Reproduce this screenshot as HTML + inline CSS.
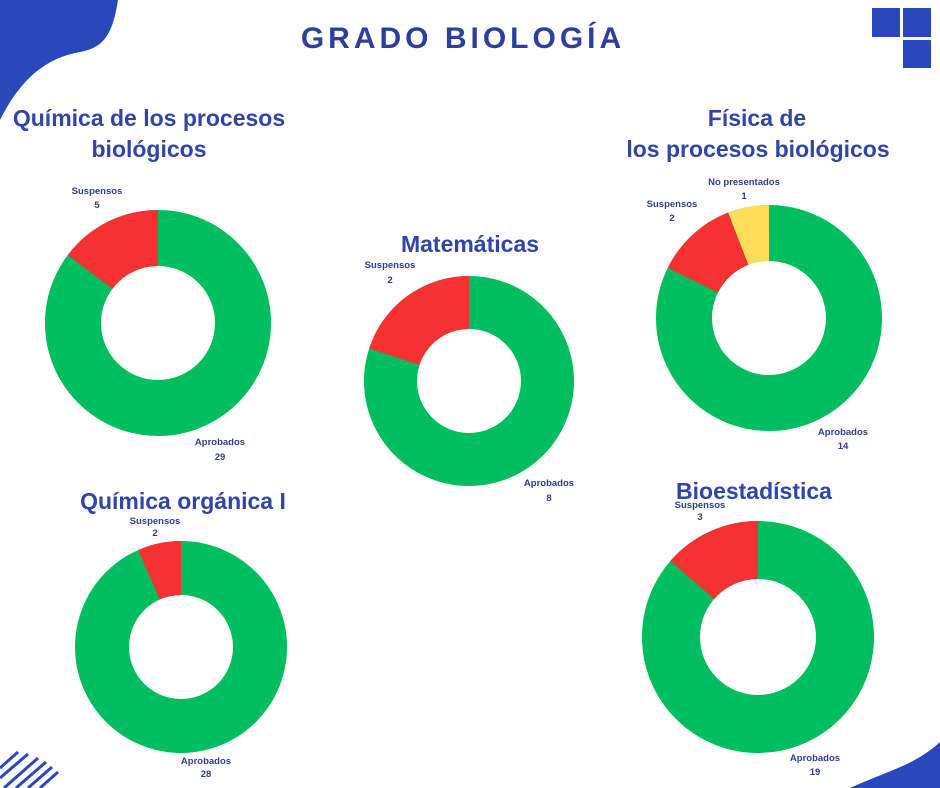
<!DOCTYPE html>
<html><head><meta charset="utf-8"><style>
body{margin:0;background:#fff;}
svg{display:block;font-family:"Liberation Sans",sans-serif;}
.t{font-weight:bold;fill:#2f45a8;font-size:23px;text-anchor:middle;}
.l{font-weight:bold;fill:#2d3f8e;font-size:9.5px;text-anchor:middle;}
</style></head><body>
<svg width="940" height="788" viewBox="0 0 940 788">
<path d="M0 0 H118 C112 40 100 48 80 52 C45 58 20 80 0 120 Z" fill="#2b47be"/>
<rect x="872" y="8" width="28" height="29" fill="#2b47be"/>
<rect x="903" y="8" width="28" height="29" fill="#2b47be"/>
<rect x="903" y="40" width="28" height="28" fill="#2b47be"/>
<path d="M940 742 C915 765 890 770 850 788 H940 Z" fill="#2b47be"/>
<g stroke="#2b47be" stroke-width="3">
<line x1="0" y1="768" x2="18" y2="752"/><line x1="0" y1="778" x2="28" y2="754"/>
<line x1="4" y1="788" x2="38" y2="758"/><line x1="16" y1="788" x2="46" y2="762"/>
<line x1="28" y1="788" x2="52" y2="767"/><line x1="40" y1="788" x2="58" y2="772"/>
</g>
<text x="463" y="48" text-anchor="middle" font-weight="bold" font-size="30" letter-spacing="4" fill="#2d3f9e">GRADO BIOLOGÍA</text>

<text class="t" x="149" y="126">Química de los procesos</text>
<text class="t" x="149" y="157">biológicos</text>
<circle cx="158" cy="323" r="85" fill="none" stroke="#00be5f" stroke-width="56"/>
<circle cx="158" cy="323" r="85" fill="none" stroke="#f53232" stroke-width="56" stroke-dasharray="78.6 600" transform="rotate(-143 158 323)"/>
<text class="l" x="97" y="194">Suspensos</text><text class="l" x="97" y="208">5</text>
<text class="l" x="220" y="445">Aprobados</text><text class="l" x="220" y="460">29</text>

<text class="t" x="470" y="252">Matemáticas</text>
<circle cx="469" cy="381" r="78.5" fill="none" stroke="#00be5f" stroke-width="53"/>
<circle cx="469" cy="381" r="78.5" fill="none" stroke="#f53232" stroke-width="53" stroke-dasharray="98.6 600" transform="rotate(-162 469 381)"/>
<text class="l" x="390" y="268">Suspensos</text><text class="l" x="390" y="283">2</text>
<text class="l" x="549" y="486">Aprobados</text><text class="l" x="549" y="501">8</text>

<text class="t" x="757" y="126">Física de</text>
<text class="t" x="758" y="157">los procesos biológicos</text>
<circle cx="769" cy="318" r="85" fill="none" stroke="#00be5f" stroke-width="56"/>
<circle cx="769" cy="318" r="85" fill="none" stroke="#ffdd5a" stroke-width="56" stroke-dasharray="31.4 600" transform="rotate(-111.2 769 318)"/>
<circle cx="769" cy="318" r="85" fill="none" stroke="#f53232" stroke-width="56" stroke-dasharray="62.8 600" transform="rotate(-153.6 769 318)"/>
<text class="l" x="744" y="185">No presentados</text><text class="l" x="744" y="199">1</text>
<text class="l" x="672" y="207">Suspensos</text><text class="l" x="672" y="221">2</text>
<text class="l" x="843" y="435">Aprobados</text><text class="l" x="843" y="449">14</text>

<text class="t" x="183" y="509">Química orgánica I</text>
<circle cx="181" cy="647" r="79" fill="none" stroke="#00be5f" stroke-width="54"/>
<circle cx="181" cy="647" r="79" fill="none" stroke="#f53232" stroke-width="54" stroke-dasharray="33.1 600" transform="rotate(-114 181 647)"/>
<text class="l" x="155" y="524" font-size="8.5">Suspensos</text><text class="l" x="155" y="536" font-size="8.5">2</text>
<text class="l" x="206" y="764">Aprobados</text><text class="l" x="206" y="777">28</text>

<text class="t" x="754" y="499">Bioestadística</text>
<circle cx="758" cy="637" r="87" fill="none" stroke="#00be5f" stroke-width="58"/>
<circle cx="758" cy="637" r="87" fill="none" stroke="#f53232" stroke-width="58" stroke-dasharray="74.5 600" transform="rotate(-139.1 758 637)"/>
<text class="l" x="700" y="508" font-size="8.5">Suspensos</text><text class="l" x="700" y="520" font-size="8.5">3</text>
<text class="l" x="815" y="761">Aprobados</text><text class="l" x="815" y="775">19</text>
</svg>
</body></html>
